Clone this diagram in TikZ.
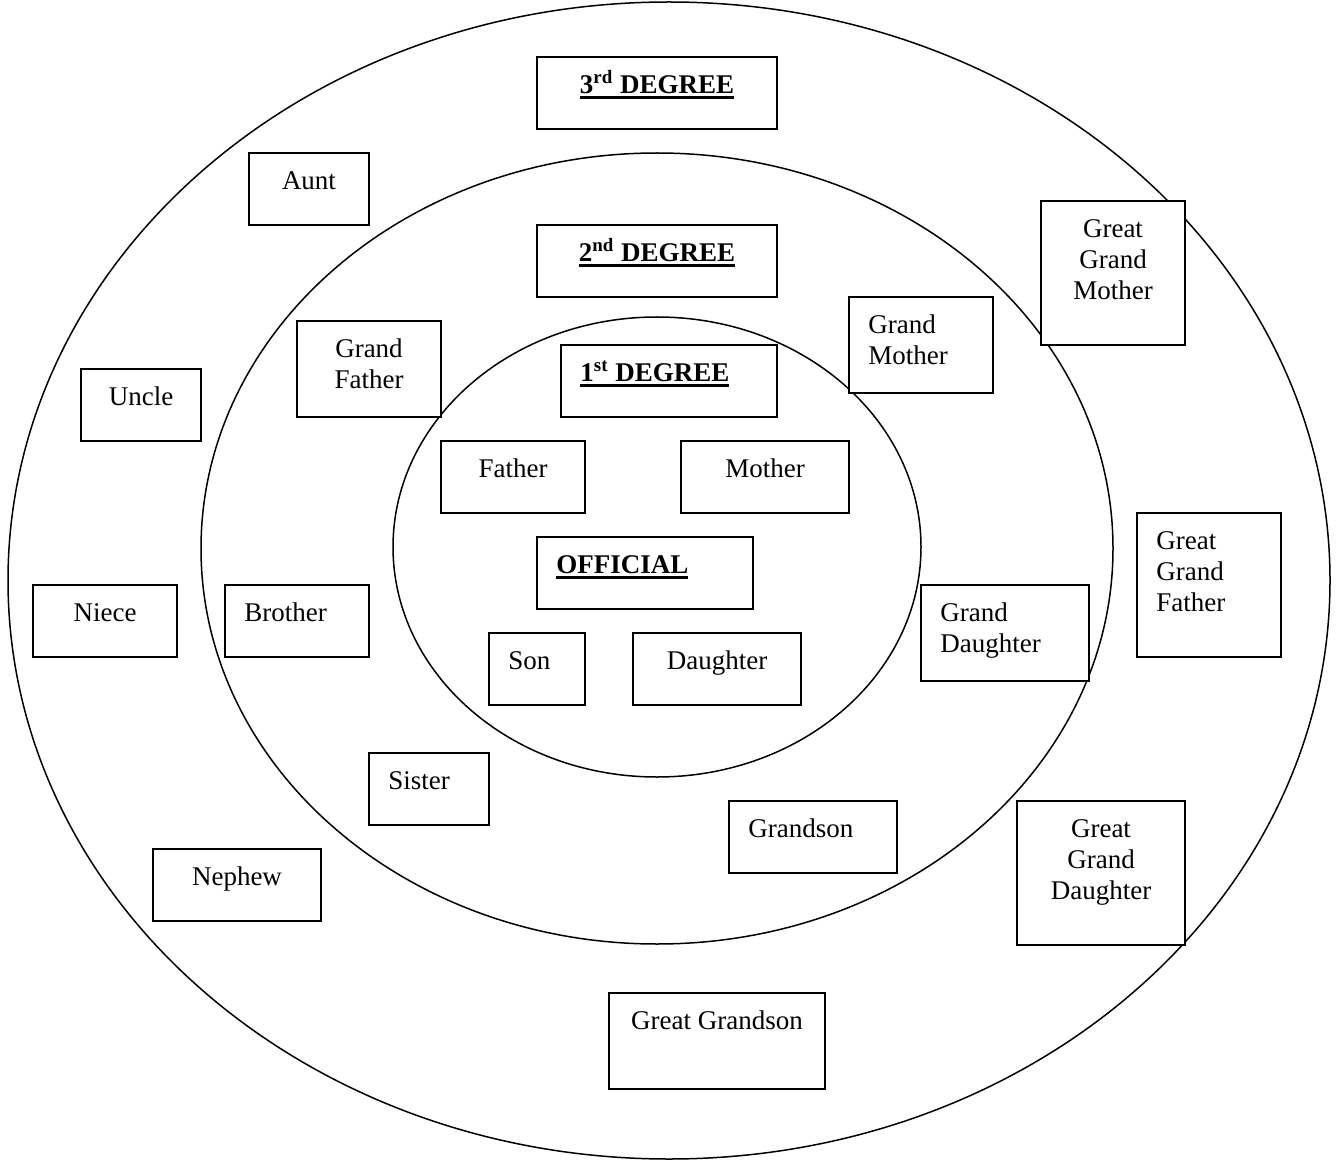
\documentclass[tikz,border=0pt]{standalone}
\usepackage{fontspec}
\setmainfont{Liberation Serif}
\usetikzlibrary{calc,fit}
\tikzset{
  x=0.5pt, y=-0.5pt,
  box/.style={draw, line width=1pt, fill=white, inner sep=0pt},
  lbl/.style={inner sep=0pt, font=\fontsize{13.5}{15.5}\selectfont},
  ring/.style={draw, line width=0.75pt},
}
% thick underline for headings
\newcommand{\thickul}[1]{\setbox0=\hbox{#1}\leavevmode\vtop{\copy0\kern1.2pt\hrule height 1.3pt width \wd0}}
% centred label box: name, x1, y1, x2, y2, text
\newcommand{\cbox}[6]{%
  \node[box, fit={(#2,#3) (#4,#5)}] (#1) {};
  \node[lbl, anchor=base] (#1-t) at ($(#1.north)+(0,37.5)$)
    {\begin{tabular}[t]{@{}c@{}}#6\end{tabular}};}
% left-aligned label box
\newcommand{\lbox}[6]{%
  \node[box, fit={(#2,#3) (#4,#5)}] (#1) {};
  \node[lbl, anchor=base west] (#1-t) at ($(#1.north west)+(20,37.5)$)
    {\begin{tabular}[t]{@{}l@{}}#6\end{tabular}};}
\begin{document}
\begin{tikzpicture}
\useasboundingbox (0,0) rectangle (1338,1160);
% rings
\draw[ring] (669,580.5) ellipse [x radius=330.5pt, y radius=289.25pt];
\draw[ring] (657,548.5) ellipse [x radius=228pt, y radius=197.75pt];
\draw[ring] (657,547) ellipse [x radius=132pt, y radius=115pt];
% boxes
\cbox{deg3}{537}{57}{777}{129}{\bfseries\thickul{3\textsuperscript{rd} DEGREE}}
\cbox{aunt}{249}{153}{369}{225}{Aunt}
\cbox{deg2}{537}{225}{777}{297}{\bfseries\thickul{2\textsuperscript{nd} DEGREE}}
\cbox{ggm}{1041}{201}{1185}{345}{Great\\Grand\\Mother}
\lbox{gm}{849}{297}{993}{393}{Grand\\Mother}
\cbox{gf}{297}{321}{441}{417}{Grand\\Father}
\lbox{deg1}{561}{345}{777}{417}{\bfseries\thickul{1\textsuperscript{st} DEGREE}}
\cbox{uncle}{81}{369}{201}{441}{Uncle}
\cbox{father}{441}{441}{585}{513}{Father}
\cbox{mother}{681}{441}{849}{513}{Mother}
\lbox{official}{537}{537}{753}{609}{\bfseries\thickul{OFFICIAL}}
\lbox{ggf}{1137}{513}{1281}{657}{Great\\Grand\\Father}
\cbox{niece}{33}{585}{177}{657}{Niece}
\lbox{brother}{225}{585}{369}{657}{Brother}
\lbox{gd}{921}{585}{1089}{681}{Grand\\Daughter}
\lbox{son}{489}{633}{585}{705}{Son}
\cbox{daughter}{633}{633}{801}{705}{Daughter}
\lbox{sister}{369}{753}{489}{825}{Sister}
\lbox{grandson}{729}{801}{897}{873}{Grandson}
\cbox{nephew}{153}{849}{321}{921}{Nephew}
\cbox{ggd}{1017}{801}{1185}{945}{Great\\Grand\\Daughter}
\cbox{ggs}{609}{993}{825}{1089}{Great Grandson}
\end{tikzpicture}
\end{document}
